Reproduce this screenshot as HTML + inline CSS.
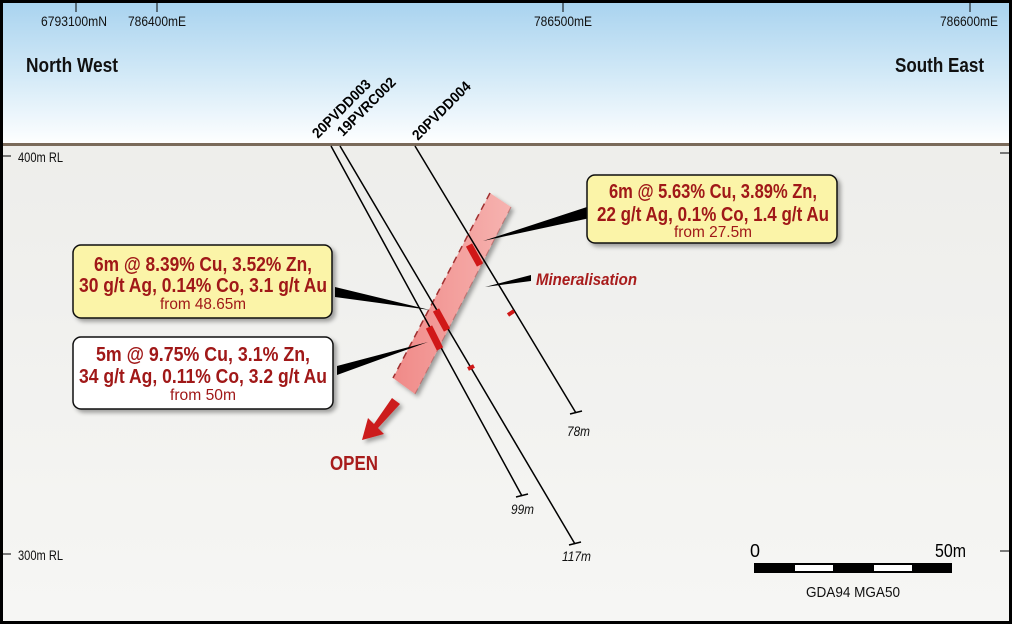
<!DOCTYPE html>
<html><head><meta charset="utf-8"><style>
html,body{margin:0;padding:0;background:#000;}
svg{display:block;font-family:"Liberation Sans",sans-serif;}
</style></head><body>
<svg width="1012" height="624" viewBox="0 0 1012 624" xmlns="http://www.w3.org/2000/svg">
<defs>
<linearGradient id="sky" x1="0" y1="0" x2="0" y2="1">
<stop offset="0" stop-color="#a9d3ef"/><stop offset="0.5" stop-color="#d2e9f7"/><stop offset="1" stop-color="#ffffff"/>
</linearGradient>
<linearGradient id="ground" x1="0" y1="0" x2="0" y2="1">
<stop offset="0" stop-color="#ebebe8"/><stop offset="1" stop-color="#f6f6f4"/>
</linearGradient>
<linearGradient id="band" x1="0" y1="0" x2="1" y2="0">
<stop offset="0" stop-color="#f08a88"/><stop offset="1" stop-color="#f6b3b0"/>
</linearGradient>
<filter id="sh" x="-10%" y="-10%" width="130%" height="130%"><feDropShadow dx="3" dy="3" stdDeviation="2" flood-color="#000" flood-opacity="0.35"/></filter>
</defs>
<rect x="3" y="3" width="1006" height="618" fill="url(#ground)"/>
<rect x="3" y="3" width="1006" height="142" fill="url(#sky)"/>
<rect x="3" y="143" width="1006" height="3" fill="#7a6a5a"/>
<g stroke="#000" stroke-width="1">
<line x1="76" y1="3" x2="76" y2="12"/><line x1="157" y1="3" x2="157" y2="12"/><line x1="563" y1="3" x2="563" y2="12"/><line x1="970" y1="3" x2="970" y2="12"/>
<line x1="3" y1="156" x2="11" y2="156"/><line x1="1000" y1="153" x2="1009" y2="153"/>
<line x1="3" y1="554" x2="11" y2="554"/><line x1="1000" y1="551" x2="1009" y2="551"/>
</g>
<g font-size="14" fill="#111">
<text x="74" y="26" text-anchor="middle" textLength="66" lengthAdjust="spacingAndGlyphs">6793100mN</text>
<text x="157" y="26" text-anchor="middle" textLength="58" lengthAdjust="spacingAndGlyphs">786400mE</text>
<text x="563" y="26" text-anchor="middle" textLength="58" lengthAdjust="spacingAndGlyphs">786500mE</text>
<text x="998" y="26" text-anchor="end" textLength="58" lengthAdjust="spacingAndGlyphs">786600mE</text>
<text x="18" y="162" textLength="45" lengthAdjust="spacingAndGlyphs">400m RL</text>
<text x="18" y="560" textLength="45" lengthAdjust="spacingAndGlyphs">300m RL</text>
</g>
<g font-size="20" font-weight="bold" fill="#111">
<text x="26" y="72" textLength="92" lengthAdjust="spacingAndGlyphs">North West</text>
<text x="984" y="72" text-anchor="end" textLength="89" lengthAdjust="spacingAndGlyphs">South East</text>
</g>
<g font-size="14.5" font-weight="bold" fill="#000">
<text transform="translate(318,139) rotate(-45)" textLength="76" lengthAdjust="spacingAndGlyphs">20PVDD003</text>
<text x="0" y="0" transform="translate(343,137) rotate(-45)" textLength="76" lengthAdjust="spacingAndGlyphs">19PVRC002</text>
<text transform="translate(418,141) rotate(-45)" textLength="76" lengthAdjust="spacingAndGlyphs">20PVDD004</text>
</g>
<g filter="url(#sh)">
<polygon points="490,193 511,207 415,394 393,378" fill="url(#band)"/>
</g>
<line x1="490" y1="193" x2="393" y2="378" stroke="#a03030" stroke-width="1.5" stroke-dasharray="7,5"/>
<line x1="511" y1="207" x2="415" y2="394" stroke="#b05050" stroke-width="1" stroke-dasharray="7,5" opacity="0.6"/>
<g stroke="#000" stroke-width="1.5" fill="none">
<line x1="331" y1="146" x2="522" y2="496"/>
<line x1="340" y1="146" x2="575" y2="544"/>
<line x1="415" y1="146" x2="576" y2="413"/>
<line x1="516" y1="497" x2="528" y2="494"/>
<line x1="569" y1="545" x2="581" y2="542"/>
<line x1="570" y1="414" x2="582" y2="411"/>
</g>
<g font-size="13.5" font-style="italic" fill="#111">
<text x="567" y="436" textLength="23" lengthAdjust="spacingAndGlyphs">78m</text>
<text x="511" y="514" textLength="23" lengthAdjust="spacingAndGlyphs">99m</text>
<text x="562" y="561" textLength="29" lengthAdjust="spacingAndGlyphs">117m</text>
</g>
<g stroke="#d01818" stroke-width="7" stroke-linecap="butt">
<line x1="469" y1="245" x2="480" y2="265"/>
<line x1="436" y1="310" x2="447" y2="330"/>
<line x1="429" y1="327" x2="440" y2="349"/>
<line x1="508" y1="315" x2="514" y2="311" stroke-width="4"/>
<line x1="468" y1="369" x2="474" y2="366" stroke-width="4"/>
</g>
<g fill="#000">
<polygon points="590,206 590,218 483,241"/>
<polygon points="335,287 335,297 430,310"/>
<polygon points="337,366 337,375 428,342"/>
<polygon points="531,275 531,281 485,287"/>
</g>
<text x="536" y="285" font-size="17" font-weight="bold" font-style="italic" fill="#a81c1c" textLength="101" lengthAdjust="spacingAndGlyphs">Mineralisation</text>
<g filter="url(#sh)" stroke="#111" stroke-width="1.5">
<rect x="587" y="175" width="250" height="68" rx="8" fill="#fbf4a8"/>
<rect x="73" y="245" width="259" height="73" rx="8" fill="#fbf4a8"/>
<rect x="73" y="337" width="260" height="72" rx="8" fill="#ffffff"/>
</g>
<g fill="#a01818" text-anchor="middle">
<g font-size="20" font-weight="bold">
<text x="713" y="198" textLength="208" lengthAdjust="spacingAndGlyphs">6m @ 5.63% Cu, 3.89% Zn,</text>
<text x="713" y="221" textLength="232" lengthAdjust="spacingAndGlyphs">22 g/t Ag, 0.1% Co, 1.4 g/t Au</text>
<text x="203" y="271" textLength="218" lengthAdjust="spacingAndGlyphs">6m @ 8.39% Cu, 3.52% Zn,</text>
<text x="203" y="292" textLength="248" lengthAdjust="spacingAndGlyphs">30 g/t Ag, 0.14% Co, 3.1 g/t Au</text>
<text x="203" y="361" textLength="214" lengthAdjust="spacingAndGlyphs">5m @ 9.75% Cu, 3.1% Zn,</text>
<text x="203" y="383" textLength="248" lengthAdjust="spacingAndGlyphs">34 g/t Ag, 0.11% Co, 3.2 g/t Au</text>
</g>
<g font-size="16">
<text x="713" y="237" textLength="78" lengthAdjust="spacingAndGlyphs">from 27.5m</text>
<text x="203" y="309" textLength="86" lengthAdjust="spacingAndGlyphs">from 48.65m</text>
<text x="203" y="400" textLength="66" lengthAdjust="spacingAndGlyphs">from 50m</text>
</g>
</g>
<g filter="url(#sh)">
<polygon points="392,398 400,404 378,428 384,434 362,440 368,418 374,424" fill="#cc1a1a"/>
</g>
<text x="330" y="470" font-size="20" font-weight="bold" fill="#a81c1c" textLength="48" lengthAdjust="spacingAndGlyphs">OPEN</text>
<rect x="754" y="563" width="198" height="10" fill="#000"/>
<rect x="795" y="565" width="38" height="6" fill="#fff"/>
<rect x="874" y="565" width="38" height="6" fill="#fff"/>
<text x="750" y="557" font-size="18" fill="#000" textLength="10" lengthAdjust="spacingAndGlyphs">0</text>
<text x="935" y="557" font-size="18" fill="#000" textLength="31" lengthAdjust="spacingAndGlyphs">50m</text>
<text x="853" y="597" font-size="15" text-anchor="middle" fill="#111" textLength="94" lengthAdjust="spacingAndGlyphs">GDA94 MGA50</text>
</svg>
</body></html>
